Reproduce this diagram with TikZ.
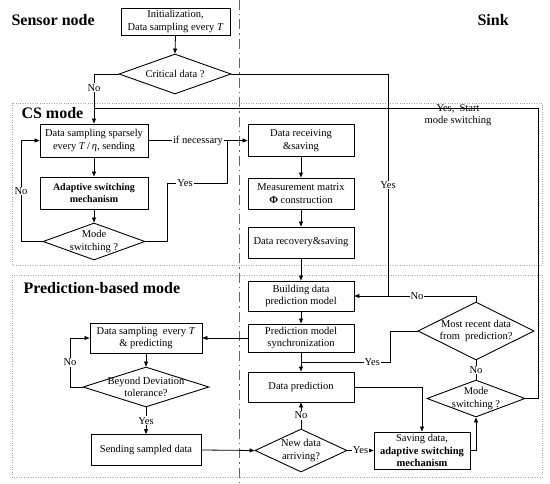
\documentclass[tikz,border=0pt]{standalone}
\usepackage{fontspec}
\setmainfont{Liberation Serif}
\usetikzlibrary{shapes.geometric,arrows.meta}

\begin{document}
\begin{tikzpicture}[x=1pt,y=-1pt,font=\fontsize{10.5}{12.5}\selectfont]
  \useasboundingbox (0,0) rectangle (550,484);

  \tikzset{dia/.style={diamond, draw, line width=0.9pt, fill=white, inner sep=0pt},
           lbl/.style={fill=white, inner sep=1pt}}

  % mode regions and the sensor / sink split
  \draw[gray!70, dotted] (12,103) rectangle (542,265);
  \draw[gray!70, dotted] (12,275) rectangle (542,477);
  \draw[gray!80!black, dash pattern=on 10pt off 4pt on 1.5pt off 4pt] (239,0) -- (239,484);

  \begin{scope}[every node/.style={font=\fontsize{16}{18}\selectfont\bfseries, anchor=west}]
      \node (sensor) at (8,20) {Sensor node};
      \node (sink) at (474,20) {Sink};
      \node (csmode) at (18,113) {CS mode};
      \node (predmode) at (20,288) {Prediction-based mode};
  \end{scope}

  \begin{scope}[every node/.style={rectangle,draw,line width=0.9pt,fill=white,align=center,inner sep=1pt}]
      \node[minimum width=109pt, minimum height=27pt] (init) at (175.5,21.5) {Initialization,\\Data sampling every \textit{T}};

      \node[minimum width=108pt, minimum height=33pt] (cs) at (94,140.5) {Data sampling sparsely\\every \textit{T}\,/\,\textit{η}, sending};
      \node[minimum width=108pt, minimum height=32pt, font=\bfseries] (adapt) at (94,193) {Adaptive switching\\mechanism};

      \node[minimum width=106pt, minimum height=32pt] (recv) at (301,140.5) {Data receiving\\\&saving};
      \node[minimum width=106pt, minimum height=31pt] (meas) at (301,193.5) {Measurement matrix\\\textbf{Φ} construction};
      \node[minimum width=106pt, minimum height=31pt] (recov) at (301,242.5) {Data recovery\&saving};

      \node[minimum width=106pt, minimum height=30pt] (build) at (301,296) {Building data\\prediction model};
      \node[minimum width=106pt, minimum height=28pt] (sync) at (301,338) {Prediction model\\synchronization};
      \node[minimum width=106pt, minimum height=30pt] (pred) at (301,387) {Data prediction};
      \node[minimum width=96pt, minimum height=37pt] (save) at (422,450.5) {Saving data,\\\textbf{adaptive switching}\\\textbf{mechanism}};

      \node[minimum width=112pt, minimum height=30pt] (samp) at (146,338) {Data sampling~ every \textit{T}\\\& predicting};
      \node[minimum width=110pt, minimum height=31pt] (send) at (146,450) {Sending sampled data};
  \end{scope}

  \node[dia, minimum width=112pt, minimum height=40pt, label={[align=center]center:Critical data ?}] (crit) at (175,74) {};
  \node[dia, minimum width=102pt, minimum height=37pt, label={[align=center]center:Mode\\switching ?}] (modeL) at (94,241.5) {};
  \node[dia, minimum width=92pt, minimum height=43pt, label={[align=center]center:New data\\arriving?}] (newd) at (301,450.5) {};
  \node[dia, minimum width=116pt, minimum height=58pt, label={[align=center]center:Most recent data\\from~ prediction?}] (recent) at (476,331) {};
  \node[dia, minimum width=98pt, minimum height=37pt, label={[align=center]center:Mode\\switching ?}] (modeR) at (476,398.5) {};
  \node[dia, minimum width=126pt, minimum height=40pt, label={[align=center]center:Beyond Deviation\\tolerance?}] (beyond) at (146,387) {};

  \tikzset{flow arc/.style={->, >={Triangle[length=5pt,width=4pt]}, line width=0.8pt},
           flow line/.style={line width=0.8pt}}

  \coordinate (jn) at (94,108);
  \coordinate (rt) at (538,108);
  \coordinate (jy) at (388,296);
  \coordinate (jc) at (227,140.5);
  \coordinate (jp) at (301,362);

  % sensor node, CS mode
  \draw[flow arc] (init.south) -- (crit.north);
  \draw[flow arc] (crit.west) -| node[lbl,pos=0.64]{No} (cs.north);
  \draw[flow arc] (cs.south) -- (adapt.north);
  \draw[flow arc] (adapt.south) -- (modeL.north);
  \draw[flow arc] (modeL.west) -- (21,241.5) |- node[lbl,pos=0.25]{No} (cs.west);
  \draw[flow arc] (cs.east) -- node[lbl]{if necessary} (recv.west);
  \draw[flow line] (modeL.east) -- (167,241.5) |- node[lbl,pos=0.65]{Yes} (227,183) -- (jc);
  \draw[flow arc] (crit.east) -| node[lbl,pos=0.75]{Yes} (jy) -- (build.east);

  % sink, CS mode
  \draw[flow arc] (recv.south) -- (meas.north);
  \draw[flow arc] (meas.south) -- (recov.north);
  \draw[flow arc] (recov.south) -- (build.north);

  % sink, prediction-based mode
  \draw[flow arc] (build.south) -- (sync.north);
  \draw[flow arc] (sync.south) -- (pred.north);
  \draw[flow line] (recent.north) |- node[lbl,pos=0.835]{No} (jy);
  \draw[flow line] (recent.west) -- (390,331) |- node[lbl,pos=0.6]{Yes} (jp);
  \draw[flow line] (recent.south) -- node[lbl]{No} (modeR.north);
  \draw[flow arc] (pred.east) -| (save.north);
  \draw[flow arc] (newd.east) -- node[lbl]{Yes} (save.west);
  \draw[flow arc] (newd.north) -- node[lbl]{No} (pred.south);
  \draw[flow arc] (save.east) -| (modeR.south);
  \draw[flow line] (modeR.east) -| (rt) -- (jn);
  \node[align=center] (swlbl) at (458,115) {Yes,\ \ Start\\mode switching};

  % sensor node, prediction-based mode
  \draw[flow arc] (sync.west) -- (samp.east);
  \draw[flow arc] (samp.south) -- (beyond.north);
  \draw[flow arc] (beyond.west) -- (70,387) |- node[lbl,pos=0.25]{No} (samp.west);
  \draw[flow arc] (beyond.south) -- node[lbl]{Yes} (send.north);
  \draw[flow arc] (send.east) -- (newd.west);

\end{tikzpicture}
\end{document}
